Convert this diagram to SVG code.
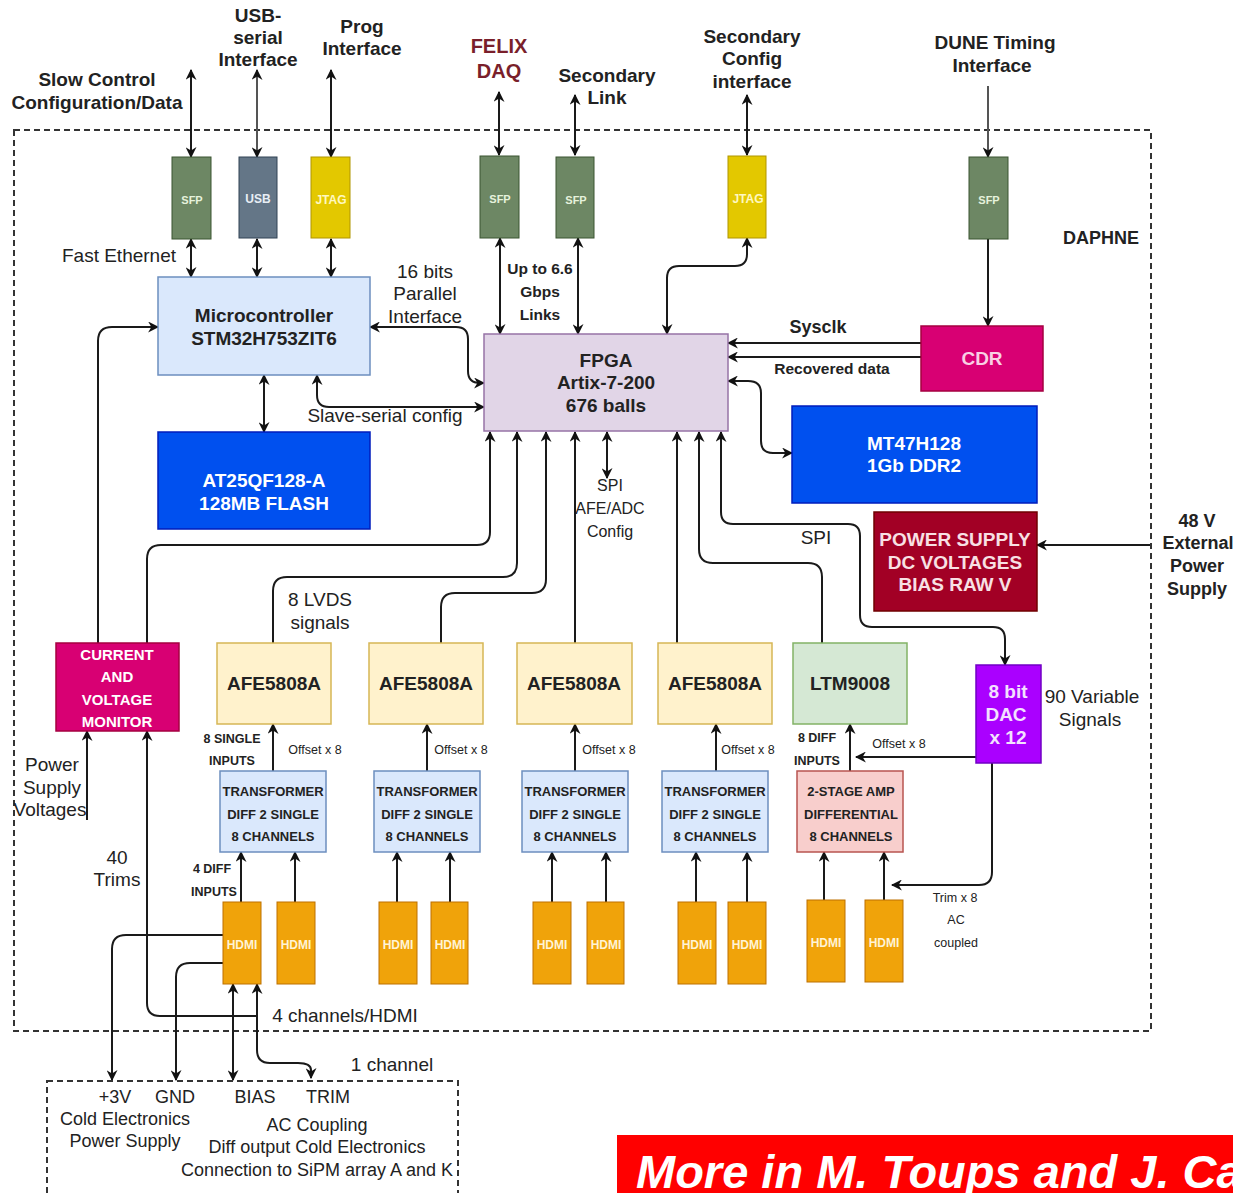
<svg xmlns="http://www.w3.org/2000/svg" width="1233" height="1193" viewBox="0 0 1233 1193">
<style>
text{font-family:"Liberation Sans",Arial,sans-serif;fill:#222;text-anchor:middle}
.b{font-weight:bold}
.t19{font-size:19px}
.t18{font-size:18px}
.t16{font-size:16px}
.t15{font-size:15.5px}
.t13{font-size:13px}
.t12{font-size:12.5px}
.w{fill:#fff}
.c{fill:none;stroke:#1a1a1a;stroke-width:2}
.ah{marker-end:url(#arr)}
.as{marker-start:url(#arr)}
.dash{fill:none;stroke:#333;stroke-width:2;stroke-dasharray:6 4}
.hd{font-size:12px;font-weight:bold;fill:#fff3d6}
</style>
<defs>
<marker id="arr" viewBox="0 0 10 10" refX="9" refY="5" markerWidth="11" markerHeight="11" markerUnits="userSpaceOnUse" orient="auto-start-reverse">
<path d="M0,0 L10,5 L0,10 L3,5 z" fill="#111"/>
</marker>
</defs>
<rect width="1233" height="1193" fill="#fff"/>

<!-- DAPHNE frame -->
<g id="daphne-frame">
<rect class="dash" x="14" y="130" width="1137" height="901"/>
<text class="b t18" x="1101" y="244">DAPHNE</text>
</g>

<!-- external labels -->
<g id="labels">
<text class="b t19" x="97" y="86">Slow Control</text>
<text class="b t19" x="97" y="109">Configuration/Data</text>
<text class="b t19" x="258" y="22">USB-</text>
<text class="b t19" x="258" y="44">serial</text>
<text class="b t19" x="258" y="66">Interface</text>
<text class="b t19" x="362" y="33">Prog</text>
<text class="b t19" x="362" y="55">Interface</text>
<text class="b" x="499" y="53" style="font-size:20px;fill:#7a1f2b">FELIX</text>
<text class="b" x="499" y="78" style="font-size:20px;fill:#7a1f2b">DAQ</text>
<text class="b t19" x="607" y="82">Secondary</text>
<text class="b t19" x="607" y="104">Link</text>
<text class="b t19" x="752" y="43">Secondary</text>
<text class="b t19" x="752" y="65">Config</text>
<text class="b t19" x="752" y="88">interface</text>
<text class="b t19" x="995" y="49">DUNE Timing</text>
<text class="b t19" x="992" y="72">Interface</text>
<text class="t19" x="119" y="262">Fast Ethernet</text>
<text class="t19" x="425" y="278">16 bits</text>
<text class="t19" x="425" y="300">Parallel</text>
<text class="t19" x="425" y="323">Interface</text>
<text class="t19" x="385" y="422">Slave-serial config</text>
<text class="b t15" x="540" y="274">Up to 6.6</text>
<text class="b t15" x="540" y="297">Gbps</text>
<text class="b t15" x="540" y="320">Links</text>
<text class="b t18" x="818" y="333">Sysclk</text>
<text class="b t15" x="832" y="374">Recovered data</text>
<text class="t16" x="610" y="491">SPI</text>
<text class="t16" x="610" y="514">AFE/ADC</text>
<text class="t16" x="610" y="537">Config</text>
<text class="t19" x="816" y="544">SPI</text>
<text class="t19" x="320" y="606">8 LVDS</text>
<text class="t19" x="320" y="629">signals</text>
<text class="b t18" x="1197" y="527">48 V</text>
<text class="b t18" x="1198" y="549">External</text>
<text class="b t18" x="1197" y="572">Power</text>
<text class="b t18" x="1197" y="595">Supply</text>
<text class="t19" x="1092" y="703">90 Variable</text>
<text class="t19" x="1090" y="726">Signals</text>
<text class="t19" x="52" y="771">Power</text>
<text class="t19" x="52" y="794">Supply</text>
<text class="t19" x="50" y="816">Voltages</text>
<text class="t19" x="117" y="864">40</text>
<text class="t19" x="117" y="886">Trims</text>
<text class="b t12" x="232" y="743">8 SINGLE</text>
<text class="b t12" x="232" y="765">INPUTS</text>
<text class="t12" x="315" y="754">Offset x 8</text>
<text class="t12" x="461" y="754">Offset x 8</text>
<text class="t12" x="609" y="754">Offset x 8</text>
<text class="t12" x="748" y="754">Offset x 8</text>
<text class="b t12" x="817" y="742">8 DIFF</text>
<text class="b t12" x="817" y="765">INPUTS</text>
<text class="t12" x="899" y="748">Offset x 8</text>
<text class="b t12" x="212" y="873">4 DIFF</text>
<text class="b t12" x="214" y="896">INPUTS</text>
<text class="t12" x="955" y="902">Trim x 8</text>
<text class="t12" x="956" y="924">AC</text>
<text class="t12" x="956" y="947">coupled</text>
<text class="t19" x="345" y="1022">4 channels/HDMI</text>
<text class="t19" x="392" y="1071">1 channel</text>
</g>

<!-- connectors -->
<g id="connectors">
<path class="c ah as" d="M191,70 V157"/>
<path class="c ah as" d="M257,70 V157" style="stroke:#555"/>
<path class="c ah as" d="M331,70 V157"/>
<path class="c ah as" d="M499,92 V155"/>
<path class="c ah as" d="M575,95 V155"/>
<path class="c ah as" d="M747,95 V155"/>
<path class="c ah" d="M988,86 V157" style="stroke:#555"/>
<path class="c ah as" d="M191,239 V277"/>
<path class="c ah as" d="M257,239 V277"/>
<path class="c ah as" d="M331,239 V277"/>
<path class="c ah as" d="M500,238 V334"/>
<path class="c ah as" d="M578,238 V334"/>
<path class="c ah as" d="M747,238 V254 Q747,266 735,266 H679 Q667,266 667,278 V334"/>
<path class="c ah" d="M988,239 V326"/>
<path class="c ah" d="M921,343 H728"/>
<path class="c ah" d="M921,357 H728"/>
<path class="c ah as" d="M728,381 H748 Q761,381 761,393 V441 Q761,453 773,453 H792"/>
<path class="c ah as" d="M370,327 H456 Q468,327 468,339 V371 Q468,383 480,383 H484"/>
<path class="c ah as" d="M317,375 V395 Q317,407 329,407 H484"/>
<path class="c ah as" d="M264,375 V432"/>
<path class="c ah" d="M98,643 V341 Q98,327 112,327 H158"/>
<path class="c ah" d="M147,643 V559 Q147,545 161,545 H477 Q490,545 490,532 V432"/>
<path class="c ah" d="M273,643 V591 Q273,577 287,577 H503 Q517,577 517,563 V432"/>
<path class="c ah" d="M441,643 V607 Q441,593 455,593 H532 Q546,593 546,579 V432"/>
<path class="c ah" d="M575,643 V432"/>
<path class="c ah as" d="M607,432 V478"/>
<path class="c ah" d="M677,643 V432"/>
<path class="c ah" d="M822,643 V577 Q822,563 808,563 H713 Q699,563 699,549 V432"/>
<path class="c ah as" d="M721,432 V512 Q721,524 733,524 H848 Q860,524 860,536 V615 Q860,627 872,627 H993 Q1005,627 1005,639 V665"/>
<path class="c ah" d="M1150,545 H1037"/>
<path class="c ah" d="M87,820 V731"/>
<path class="c as" d="M147,731 V1003 Q147,1016 160,1016 H257"/>
<path class="c ah" d="M273,771 V724"/>
<path class="c ah" d="M427,771 V724"/>
<path class="c ah" d="M575,771 V724"/>
<path class="c ah" d="M716,771 V724"/>
<path class="c ah" d="M850,771 V724"/>
<path class="c ah" d="M976,757 H856"/>
<path class="c ah" d="M992,763 V872 Q992,885 979,885 H892"/>
<path class="c ah" d="M241,902 V852"/>
<path class="c ah" d="M295,902 V852"/>
<path class="c ah" d="M397,902 V852"/>
<path class="c ah" d="M450,902 V852"/>
<path class="c ah" d="M552,902 V852"/>
<path class="c ah" d="M606,902 V852"/>
<path class="c ah" d="M696,902 V852"/>
<path class="c ah" d="M747,902 V852"/>
<path class="c ah" d="M824,900 V852"/>
<path class="c ah" d="M884,900 V852"/>
<path class="c ah" d="M223,935 H126 Q112,935 112,949 V1080"/>
<path class="c ah" d="M223,963 H190 Q176,963 176,977 V1080"/>
<path class="c ah as" d="M233,984 V1080"/>
<path class="c as ah" d="M257,984 V1050 Q257,1063 270,1063 H298 Q311,1063 311,1070 V1078"/>
</g>

<!-- top connector boxes -->
<g id="sfp-slow"><rect x="172" y="157" width="39" height="82" fill="#6d8764" stroke="#3a5431"/><text class="b" x="192" y="204" style="font-size:11px;fill:#e6f2dc">SFP</text></g>
<g id="usb"><rect x="239" y="157" width="38" height="81" fill="#647687" stroke="#314354"/><text class="b" x="258" y="203" style="font-size:12px;fill:#e8eef5">USB</text></g>
<g id="jtag-prog"><rect x="311" y="157" width="39" height="81" fill="#e3c800" stroke="#b09500"/><text class="b" x="331" y="204" style="font-size:12px;fill:#fff8c0">JTAG</text></g>
<g id="sfp-felix"><rect x="480" y="156" width="39" height="82" fill="#6d8764" stroke="#3a5431"/><text class="b" x="500" y="203" style="font-size:11px;fill:#e6f2dc">SFP</text></g>
<g id="sfp-secondary"><rect x="556" y="157" width="38" height="81" fill="#6d8764" stroke="#3a5431"/><text class="b" x="576" y="204" style="font-size:11px;fill:#e6f2dc">SFP</text></g>
<g id="jtag-secondary"><rect x="728" y="156" width="38" height="82" fill="#e3c800" stroke="#b09500"/><text class="b" x="748" y="203" style="font-size:12px;fill:#fff8c0">JTAG</text></g>
<g id="sfp-dune"><rect x="969" y="157" width="39" height="82" fill="#6d8764" stroke="#3a5431"/><text class="b" x="989" y="204" style="font-size:11px;fill:#e6f2dc">SFP</text></g>

<!-- main blocks -->
<g id="microcontroller"><rect x="158" y="277" width="212" height="98" fill="#dae8fc" stroke="#6c8ebf" stroke-width="1.5"/><text class="b t19" x="264" y="322">Microcontroller</text><text class="b t19" x="264" y="345">STM32H753ZIT6</text></g>
<g id="flash"><rect x="158" y="432" width="212" height="97" fill="#0050ef" stroke="#001dbc" stroke-width="1.5"/><text class="b t19 w" x="264" y="487">AT25QF128-A</text><text class="b t19 w" x="264" y="510">128MB FLASH</text></g>
<g id="fpga"><rect x="484" y="334" width="244" height="97" fill="#e1d5e7" stroke="#9673a6" stroke-width="1.5"/><text class="b t19" x="606" y="367">FPGA</text><text class="b t19" x="606" y="389">Artix-7-200</text><text class="b t19" x="606" y="412">676 balls</text></g>
<g id="cdr"><rect x="921" y="326" width="122" height="65" fill="#d80073" stroke="#a50040" stroke-width="1.5"/><text class="b t19" x="982" y="365" style="fill:#f8d0e4">CDR</text></g>
<g id="ddr2"><rect x="792" y="406" width="245" height="97" fill="#0050ef" stroke="#001dbc" stroke-width="1.5"/><text class="b t19 w" x="914" y="450">MT47H128</text><text class="b t19 w" x="914" y="472">1Gb DDR2</text></g>
<g id="power-supply"><rect x="874" y="512" width="163" height="99" fill="#a20025" stroke="#6f0000" stroke-width="1.5"/><text class="b t19" x="955" y="546" style="fill:#f8e0e4">POWER SUPPLY</text><text class="b t19" x="955" y="569" style="fill:#f8e0e4">DC VOLTAGES</text><text class="b t19" x="955" y="591" style="fill:#f8e0e4">BIAS RAW V</text></g>
<g id="monitor"><rect x="56" y="643" width="123" height="88" fill="#d80073" stroke="#a50040" stroke-width="1.5"/><text class="b w" x="117" y="660" style="font-size:15px">CURRENT</text><text class="b w" x="117" y="682" style="font-size:15px">AND</text><text class="b w" x="117" y="705" style="font-size:15px">VOLTAGE</text><text class="b w" x="117" y="727" style="font-size:15px">MONITOR</text></g>

<g id="afe1"><rect x="217" y="643" width="114" height="81" fill="#fff2cc" stroke="#d6b656" stroke-width="1.5"/><text class="b t19" x="274" y="690">AFE5808A</text></g>
<g id="afe2"><rect x="369" y="643" width="114" height="81" fill="#fff2cc" stroke="#d6b656" stroke-width="1.5"/><text class="b t19" x="426" y="690">AFE5808A</text></g>
<g id="afe3"><rect x="517" y="643" width="115" height="81" fill="#fff2cc" stroke="#d6b656" stroke-width="1.5"/><text class="b t19" x="574" y="690">AFE5808A</text></g>
<g id="afe4"><rect x="658" y="643" width="114" height="81" fill="#fff2cc" stroke="#d6b656" stroke-width="1.5"/><text class="b t19" x="715" y="690">AFE5808A</text></g>
<g id="ltm9008"><rect x="793" y="643" width="114" height="81" fill="#d5e8d4" stroke="#82b366" stroke-width="1.5"/><text class="b t19" x="850" y="690">LTM9008</text></g>
<g id="dac"><rect x="976" y="665" width="65" height="98" fill="#aa00ff" stroke="#7100c5" stroke-width="1.5"/><text class="b t19" x="1008" y="698" style="fill:#f3e0ff">8 bit</text><text class="b t19" x="1006" y="721" style="fill:#f3e0ff">DAC</text><text class="b t19" x="1008" y="744" style="fill:#f3e0ff">x 12</text></g>

<g id="xfmr1"><rect x="220" y="771" width="106" height="81" fill="#dae8fc" stroke="#6c8ebf" stroke-width="1.5"/><text class="b t13" x="273" y="796">TRANSFORMER</text><text class="b t13" x="273" y="819">DIFF 2 SINGLE</text><text class="b t13" x="273" y="841">8 CHANNELS</text></g>
<g id="xfmr2"><rect x="374" y="771" width="106" height="81" fill="#dae8fc" stroke="#6c8ebf" stroke-width="1.5"/><text class="b t13" x="427" y="796">TRANSFORMER</text><text class="b t13" x="427" y="819">DIFF 2 SINGLE</text><text class="b t13" x="427" y="841">8 CHANNELS</text></g>
<g id="xfmr3"><rect x="522" y="771" width="106" height="81" fill="#dae8fc" stroke="#6c8ebf" stroke-width="1.5"/><text class="b t13" x="575" y="796">TRANSFORMER</text><text class="b t13" x="575" y="819">DIFF 2 SINGLE</text><text class="b t13" x="575" y="841">8 CHANNELS</text></g>
<g id="xfmr4"><rect x="662" y="771" width="106" height="81" fill="#dae8fc" stroke="#6c8ebf" stroke-width="1.5"/><text class="b t13" x="715" y="796">TRANSFORMER</text><text class="b t13" x="715" y="819">DIFF 2 SINGLE</text><text class="b t13" x="715" y="841">8 CHANNELS</text></g>
<g id="amp"><rect x="797" y="771" width="106" height="81" fill="#f8cecc" stroke="#b85450" stroke-width="1.5"/><text class="b t13" x="851" y="796">2-STAGE AMP</text><text class="b t13" x="851" y="819">DIFFERENTIAL</text><text class="b t13" x="851" y="841">8 CHANNELS</text></g>

<g id="hdmi1a"><rect x="223" y="902" width="38" height="82" fill="#f0a30a" stroke="#bd7000"/><text class="hd" x="242" y="949">HDMI</text></g>
<g id="hdmi1b"><rect x="277" y="902" width="38" height="82" fill="#f0a30a" stroke="#bd7000"/><text class="hd" x="296" y="949">HDMI</text></g>
<g id="hdmi2a"><rect x="379" y="902" width="38" height="82" fill="#f0a30a" stroke="#bd7000"/><text class="hd" x="398" y="949">HDMI</text></g>
<g id="hdmi2b"><rect x="431" y="902" width="37" height="82" fill="#f0a30a" stroke="#bd7000"/><text class="hd" x="450" y="949">HDMI</text></g>
<g id="hdmi3a"><rect x="533" y="902" width="38" height="82" fill="#f0a30a" stroke="#bd7000"/><text class="hd" x="552" y="949">HDMI</text></g>
<g id="hdmi3b"><rect x="587" y="902" width="37" height="82" fill="#f0a30a" stroke="#bd7000"/><text class="hd" x="606" y="949">HDMI</text></g>
<g id="hdmi4a"><rect x="678" y="902" width="38" height="82" fill="#f0a30a" stroke="#bd7000"/><text class="hd" x="697" y="949">HDMI</text></g>
<g id="hdmi4b"><rect x="728" y="902" width="38" height="82" fill="#f0a30a" stroke="#bd7000"/><text class="hd" x="747" y="949">HDMI</text></g>
<g id="hdmi5a"><rect x="807" y="900" width="38" height="82" fill="#f0a30a" stroke="#bd7000"/><text class="hd" x="826" y="947">HDMI</text></g>
<g id="hdmi5b"><rect x="865" y="900" width="38" height="82" fill="#f0a30a" stroke="#bd7000"/><text class="hd" x="884" y="947">HDMI</text></g>

<!-- cold electronics box -->
<g id="cold-electronics">
<rect class="dash" x="47" y="1081" width="411" height="140"/>
<text class="t18" x="115" y="1103">+3V</text>
<text class="t18" x="175" y="1103">GND</text>
<text class="t18" x="255" y="1103">BIAS</text>
<text class="t18" x="328" y="1103">TRIM</text>
<text class="t18" x="125" y="1125">Cold Electronics</text>
<text class="t18" x="125" y="1147">Power Supply</text>
<text class="t18" x="317" y="1131">AC Coupling</text>
<text class="t18" x="317" y="1153">Diff output Cold Electronics</text>
<text class="t18" x="317" y="1176">Connection to SiPM array A and K</text>
</g>

<g id="banner">
<rect x="617" y="1135" width="616" height="58" fill="#ff0000"/>
<text x="636" y="1188" style="font-size:47px;font-weight:bold;font-style:italic;fill:#fff;text-anchor:start">More in M. Toups and J. Ca</text>
</g>
</svg>
